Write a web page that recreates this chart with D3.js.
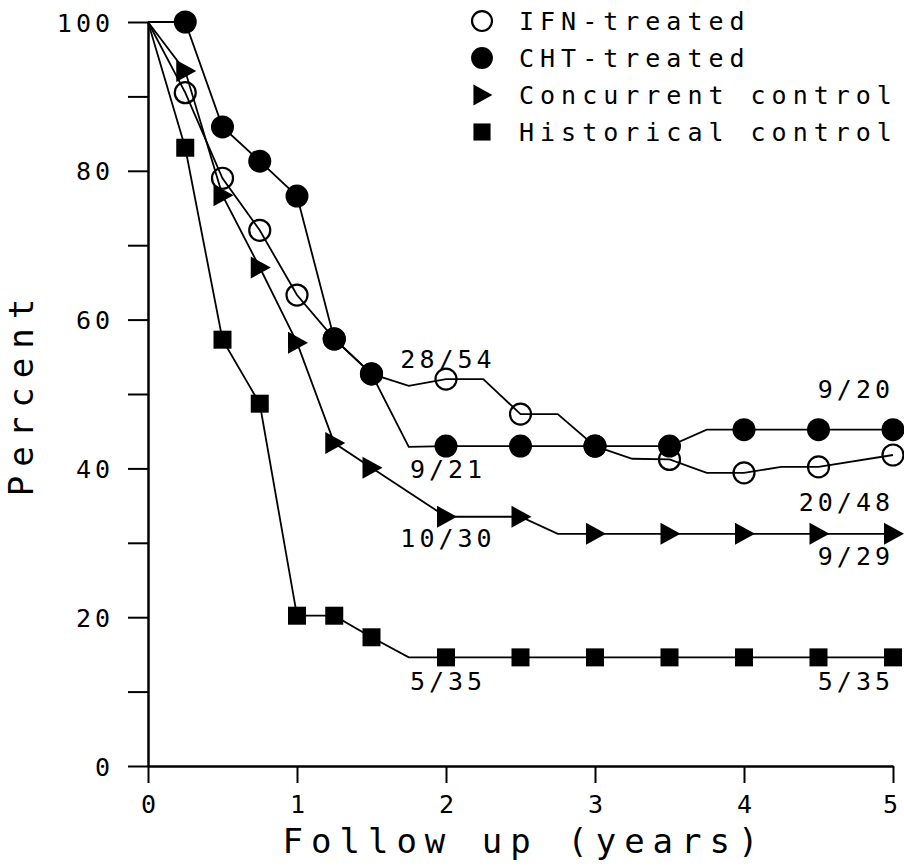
<!DOCTYPE html>
<html>
<head>
<meta charset="utf-8">
<script src="https://cdn.jsdelivr.net/npm/d3@7"></script>
<style>
  body { margin: 0; background: #fff; }
  text { font-family: "DejaVu Sans Mono", "Liberation Mono", monospace; fill: #000; }
</style>
</head>
<body>
<div id="chart"></div>
<script>
// follow-up times (years), one vertex every quarter year
var years = [0, 0.25, 0.5, 0.75, 1, 1.25, 1.5, 1.75, 2, 2.25, 2.5, 2.75, 3, 3.25, 3.5, 3.75, 4, 4.25, 4.5, 4.75, 5];
var markerYears = [0.25, 0.5, 0.75, 1, 1.25, 1.5, 2, 2.5, 3, 3.5, 4, 4.5, 5];

// percent, null = no vertex there
var ifnValues  = [100, 90.5, 79.0, 72.0, 63.3, 57.4, 52.7, 51.1, 52.0, 52.0, 47.3, 47.3, 43.0, 41.3, 41.2, 39.4, 39.4, 40.2, 40.2, null, 41.8];
var chtValues  = [100, 100, 85.9, 81.3, 76.6, 57.4, 52.7, 42.9, 43.0, null, 43.0, null, 43.0, null, 43.0, 45.2, 45.2, null, 45.2, null, 45.2];
var concValues = [100, 93.4, 76.7, 67.0, 56.9, 43.4, 40.1, null, 33.5, 33.5, 33.5, 31.2, 31.2, null, 31.2, null, 31.2, null, 31.2, null, 31.2];
var histValues = [100, 83.1, 57.3, 48.7, 20.2, 20.2, 17.3, 14.6, 14.6, null, 14.6, null, 14.6, null, 14.6, null, 14.6, null, 14.6, null, 14.6];

var seriesNames = ["IFN-treated", "CHT-treated", "Concurrent control", "Historical control"];
var seriesSymbols = ["openCircle", "circle", "triangle", "square"];

// n/N annotations and where they sit (years, percent of baseline)
var labelTexts  = ["28/54", "9/21", "10/30", "5/35", "9/20", "20/48", "9/29", "5/35"];
var labelYears  = [2, 2, 2, 2, 5, 5, 5, 5];
var labelValues = [53.5, 38.7, 29.5, 10.2, 49.5, 34.3, 27.0, 10.2];

var xTicks = [0, 1, 2, 3, 4, 5];
var yTicks = [0, 10, 20, 30, 40, 50, 60, 70, 80, 90, 100];

var width = 904, height = 866;

var x = d3.scaleLinear().domain([0, 5]).range([148, 893]);
var y = d3.scaleLinear().domain([0, 100]).range([766, 22]);

var svg = d3.select("#chart").append("svg")
	.attr("width", width)
	.attr("height", height);

svg.append("rect")
	.attr("width", width)
	.attr("height", height)
	.attr("fill", "#fff");

// axes
var yAxis = d3.axisLeft(y)
	.tickValues(yTicks)
	.tickSize(20)
	.tickSizeOuter(0)
	.tickPadding(14)
	.tickFormat(function(d) { return d % 20 === 0 ? d : ""; });

var xAxis = d3.axisBottom(x)
	.tickValues(xTicks)
	.tickSize(17)
	.tickSizeOuter(0)
	.tickPadding(12)
	.tickFormat(d3.format("d"));

var gy = svg.append("g")
	.attr("transform", "translate(" + x(0) + ",0)")
	.call(yAxis);

var gx = svg.append("g")
	.attr("transform", "translate(0," + y(0) + ")")
	.call(xAxis);

[gx, gy].forEach(function(g) {
	g.select(".domain").style("stroke", "#000").style("stroke-width", 2.5);
	g.selectAll(".tick line").style("stroke", "#000").style("stroke-width", 2);
	g.selectAll(".tick text")
		.style("font-size", "25px")
		.style("font-family", "DejaVu Sans Mono");
});

gy.selectAll(".tick text").attr("dy", "0.36em").style("letter-spacing", "4px");
gx.selectAll(".tick text").attr("dx", function(d) { return d === 5 ? -3 : 0; });

svg.append("text")
	.attr("transform", "translate(33,393) rotate(-90)")
	.attr("text-anchor", "middle")
	.style("font-size", "34px")
	.style("letter-spacing", "9px")
	.text("Percent");

svg.append("text")
	.attr("x", x(2.5) + 4)
	.attr("y", 853)
	.attr("text-anchor", "middle")
	.style("font-size", "34px")
	.style("letter-spacing", "8px")
	.text("Follow up (years)");

// lines
var allValues = [ifnValues, chtValues, concValues, histValues];

var line = d3.line()
	.x(function(d) { return x(d[0]); })
	.y(function(d) { return y(d[1]); });

allValues.forEach(function(vals) {
	var pts = years.map(function(t, i) { return [t, vals[i]]; })
		.filter(function(p) { return p[1] !== null; });
	svg.append("path")
		.attr("d", line(pts))
		.attr("fill", "none")
		.style("stroke", "#000")
		.style("stroke-width", 1.8);
});

// marker shapes
function drawSymbol(g, kind, cx, cy, scale) {
	var s = scale || 1;
	if (kind === "openCircle") {
		g.append("circle").attr("cx", cx).attr("cy", cy).attr("r", 10.5 * s)
			.attr("fill", "none").style("stroke", "#000").style("stroke-width", 2.2);
	} else if (kind === "circle") {
		g.append("circle").attr("cx", cx).attr("cy", cy).attr("r", 11.5 * s)
			.attr("fill", "#000");
	} else if (kind === "square") {
		g.append("rect").attr("x", cx - 9 * s).attr("y", cy - 9 * s)
			.attr("width", 18 * s).attr("height", 18 * s).attr("fill", "#000");
	} else if (kind === "triangle") {
		g.append("path")
			.attr("d", "M" + (cx - 9 * s) + "," + (cy - 11 * s) + "L" + (cx + 11 * s) + "," + cy +
				"L" + (cx - 9 * s) + "," + (cy + 11 * s) + "Z")
			.attr("fill", "#000");
	}
}

var markers = svg.append("g");
allValues.forEach(function(vals, k) {
	markerYears.forEach(function(t) {
		var v = vals[years.indexOf(t)];
		drawSymbol(markers, seriesSymbols[k], x(t), y(v));
	});
});

// annotations
labelTexts.forEach(function(txt, i) {
	var atEnd = labelYears[i] === 5;
	svg.append("text")
		.attr("x", atEnd ? x(labelYears[i]) + 1 : x(labelYears[i]) + 2)
		.attr("y", y(labelValues[i]))
		.attr("text-anchor", atEnd ? "end" : "middle")
		.style("font-size", "25px")
		.style("letter-spacing", "4px")
		.text(txt);
});

// legend
var legend = svg.append("g").attr("id", "legend");
seriesNames.forEach(function(name, i) {
	var baseY = 30 + i * 37;
	drawSymbol(legend, seriesSymbols[i], 482, baseY - 9, 0.95);
	legend.append("text")
		.attr("x", 519)
		.attr("y", baseY)
		.style("font-size", "25px")
		.style("letter-spacing", "6px")
		.text(name);
});
</script>
</body>
</html>
